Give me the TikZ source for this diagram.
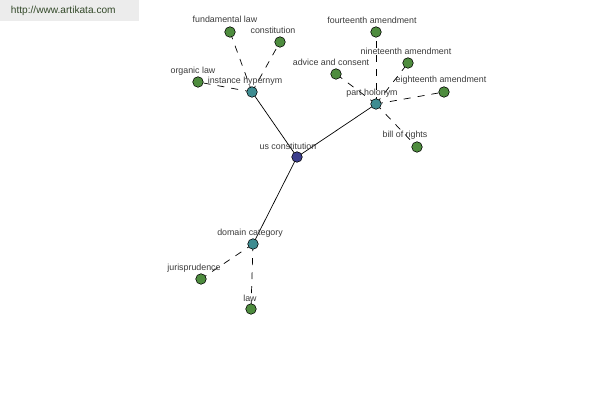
\documentclass[tikz,border=0pt]{standalone}
\usepackage{fontspec}
\setmainfont{Liberation Sans}
\usepackage{tikz}
\definecolor{leafgreen}{RGB}{78,140,62}
\definecolor{relteal}{RGB}{62,140,145}
\definecolor{rootblue}{RGB}{60,62,140}
\definecolor{txtgray}{RGB}{60,60,60}
\definecolor{sitegreen}{RGB}{50,72,40}
\tikzset{%
  solidedge/.style = {black,line width=0.5pt},
  dashedge/.style = {black,dash pattern=on 5pt off 5pt,line width=0.5pt},
  lbl/.style = {font=\fontsize{6.3}{7}\selectfont,text=txtgray,inner sep=0.5pt},
  leaf/.style = {circle,draw=black,line width=0.4pt,fill=leafgreen,
        minimum size=7.5pt,inner sep=0pt},
  rel/.style = {circle,draw=black,line width=0.4pt,fill=relteal,
        minimum size=7.5pt,inner sep=0pt},
  root/.style = {circle,draw=black,line width=0.4pt,fill=rootblue,
        minimum size=7.5pt,inner sep=0pt}
}
\begin{document}
\begin{tikzpicture}[x=0.025cm,y=-0.025cm]
\useasboundingbox (0,0) rectangle (600,400);
\fill[white] (0,0) rectangle (600,400);
% header
\fill[gray!15] (0,0) rectangle (139,21);
\node[anchor=west,font=\fontsize{7.2}{8}\selectfont,text=sitegreen] (site) at (6,11) {http://www.artikata.com};
% edges
\coordinate (usc) at (297,157);
\coordinate (hyper) at (252,92);
\coordinate (holo) at (376,104);
\coordinate (domain) at (253,244);
\coordinate (fundlaw) at (230,32);
\coordinate (const) at (280,42);
\coordinate (organic) at (198,82);
\coordinate (fourteen) at (376,32);
\coordinate (nineteen) at (408,63);
\coordinate (advice) at (336,74);
\coordinate (eighteen) at (444,92);
\coordinate (bill) at (417,147);
\coordinate (juris) at (201,279);
\coordinate (law) at (251,309);
\draw[solidedge] (usc) -- (hyper);
\draw[solidedge] (usc) -- (holo);
\draw[solidedge] (usc) -- (domain);
\foreach \a in {fundlaw,const,organic}
  \draw[dashedge] (hyper) -- (\a);
\foreach \a in {fourteen,nineteen,advice,eighteen,bill}
  \draw[dashedge] (holo) -- (\a);
\foreach \a in {juris,law}
  \draw[dashedge] (domain) -- (\a);
% nodes on top
\foreach \n/\s in {usc/root,hyper/rel,holo/rel,domain/rel,fundlaw/leaf,const/leaf,organic/leaf,fourteen/leaf,nineteen/leaf,advice/leaf,eighteen/leaf,bill/leaf,juris/leaf,law/leaf}
  \node[\s] (\n-dot) at (\n) {};
% labels
\node[lbl] (usc-l) at (288,146) {us constitution};
\node[lbl] (hyper-l) at (245,81) {instance hypernym};
\node[lbl] (holo-l) at (372,93) {part holonym};
\node[lbl] (domain-l) at (250,233) {domain category};
\node[lbl] (fundlaw-l) at (225,19) {fundamental law};
\node[lbl] (const-l) at (273,30) {constitution};
\node[lbl] (organic-l) at (193,71) {organic law};
\node[lbl] (fourteen-l) at (372,20) {fourteenth amendment};
\node[lbl] (nineteen-l) at (406,51) {nineteenth amendment};
\node[lbl] (advice-l) at (331,62) {advice and consent};
\node[lbl] (eighteen-l) at (441,80) {eighteenth amendment};
\node[lbl] (bill-l) at (405,135) {bill of rights};
\node[lbl] (juris-l) at (194,268) {jurisprudence};
\node[lbl] (law-l) at (250,298) {law};
\end{tikzpicture}
\end{document}
